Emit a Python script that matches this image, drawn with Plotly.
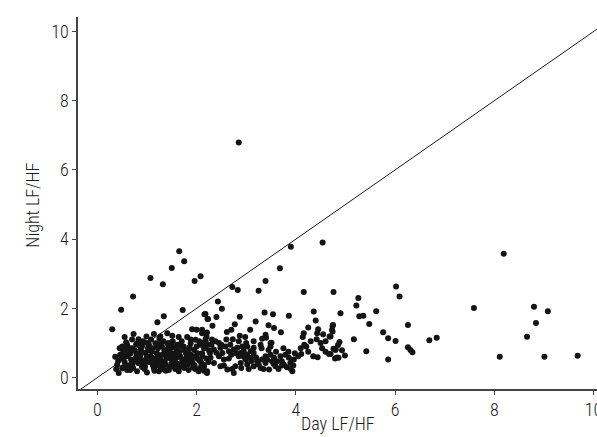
import plotly.graph_objects as go

# Day vs night LF/HF ratio per subject
day_lfhf = [
    0.30, 0.48, 0.72, 1.07, 1.32, 1.50, 1.65, 1.75, 1.96, 2.08, 1.72, 1.34, 1.21, 2.18, 2.23,
    3.90, 4.54, 3.68, 3.39, 2.72, 2.83, 3.25, 4.16, 4.76, 2.43, 2.51, 2.16, 2.22, 2.40, 2.32,
    2.87, 3.37, 3.54, 3.86, 4.36, 4.40, 4.90, 3.19, 2.77, 3.45, 3.56, 3.70, 3.08, 2.70, 2.61,
    2.87, 2.98, 2.73, 3.32, 4.16, 4.14, 4.17, 4.21, 4.43, 4.42, 4.68, 4.73, 4.75, 4.53, 4.44,
    4.67, 4.80, 4.83, 4.11, 3.51, 3.49, 3.31,
    6.02, 6.09, 5.26, 5.22, 5.62, 5.28, 5.36, 5.48, 6.26, 5.76, 5.86, 6.01, 6.69, 6.84, 5.17,
    6.26, 6.31, 6.35, 5.42, 5.86, 4.74, 4.74, 4.70, 4.88, 4.85, 4.76, 4.80, 4.93, 4.70, 4.99,
    4.79, 4.86,
    8.19, 7.59, 8.80, 9.08, 8.84, 8.66, 8.11, 9.01, 9.68, 2.85,
    2.11, 2.20, 2.13, 2.23, 2.18, 2.31, 2.38, 2.45, 2.35, 2.48, 2.58, 2.68, 2.75, 2.82, 2.92,
    2.95, 3.02, 3.09, 3.15, 3.22, 3.32, 3.39, 3.49, 3.56, 3.62, 3.69, 3.79, 3.86, 3.89, 3.96,
    3.93, 3.76, 3.59, 3.46, 3.29, 3.15, 3.02, 2.89, 2.78, 2.62, 2.48, 2.35, 2.21, 2.15, 2.75,
    2.45, 2.55, 2.28, 2.08, 2.70, 2.85, 2.99, 3.39, 3.52, 3.72, 3.09, 2.89, 2.65, 2.52, 2.27,
    3.29, 3.15, 3.02, 3.39, 3.49,
    0.55, 0.73, 0.83, 0.99, 1.14, 1.27, 1.41, 1.51, 1.64, 1.81, 1.91, 2.00, 2.11, 2.21,
    0.50, 0.60, 0.70, 0.80, 0.90, 1.04, 1.17, 1.30, 1.41, 1.47, 1.61, 1.74, 1.88, 1.98, 2.08, 2.18,
    0.46, 0.56, 0.67, 0.77, 0.87, 0.97, 1.07, 1.20, 1.27, 1.37, 1.47, 1.57, 1.67, 1.77, 1.88, 2.01, 2.11,
    0.40, 0.50, 0.43, 0.60, 0.70, 0.80, 0.90, 1.00, 1.14, 1.24, 1.34, 1.44, 1.54, 1.64, 1.74, 1.84,
    1.94, 2.04, 2.14, 2.21,
    0.55, 0.62, 0.68, 0.75, 0.82, 0.88, 0.93, 0.97, 1.02, 1.05, 1.10, 1.12, 1.18, 1.22, 1.25, 1.30,
    1.33, 1.36, 1.40, 1.45, 1.48, 1.52, 1.55, 1.58, 1.62, 1.65, 1.70, 1.72, 1.78, 1.82, 1.85, 1.90,
    1.95, 1.97, 2.02, 2.05, 2.10, 2.15, 2.20, 2.25,
    0.48, 0.52, 0.58, 0.65, 0.72, 0.78, 0.85, 0.92, 0.95, 1.00, 1.08, 1.15, 1.20, 1.28, 1.35, 1.42,
    1.50, 1.57, 1.60, 1.68, 1.75, 1.80, 1.88, 1.92, 2.00, 2.07, 2.12, 2.18, 2.24, 2.30,
    0.42, 0.38, 0.36, 0.45, 0.60, 0.70, 0.80, 0.90, 1.00, 1.10, 1.25, 1.38, 1.45, 1.55, 1.65, 1.75,
    1.85, 1.95, 2.05, 2.15,
    2.40, 2.55, 2.65, 2.72, 2.80, 2.90, 2.95, 3.05, 3.10, 3.20, 3.25, 3.35, 3.42, 3.55, 3.65, 3.72,
    3.82, 3.90, 3.95, 2.50, 2.60, 2.85, 3.00, 3.15, 3.45, 3.60, 3.75, 3.85, 3.98, 3.40,
    4.05, 4.10, 4.25, 4.30, 4.35, 4.50, 4.60, 4.25, 4.45, 4.55, 4.60,
    0.63, 0.74, 0.86, 0.96, 1.06, 1.16, 1.26, 1.37, 1.46, 1.56, 1.66, 1.76, 1.86, 1.96, 0.66, 0.79,
    0.91, 1.03, 1.13, 1.23, 1.32, 1.43, 1.53, 1.63, 1.73, 1.83, 0.57, 0.69, 0.84, 0.98, 1.11, 1.21,
    1.39, 1.49, 1.59, 1.71, 1.81, 1.93, 0.52, 0.88,
]

night_lfhf = [
    1.40, 1.96, 2.34, 2.88, 2.70, 3.17, 3.65, 3.36, 2.79, 2.93, 1.95, 1.77, 1.60, 1.84, 1.69,
    3.78, 3.90, 3.16, 2.79, 2.62, 2.53, 2.51, 2.47, 2.47, 2.20, 1.99, 1.83, 1.69, 1.75, 1.50,
    1.76, 1.88, 1.83, 1.79, 1.91, 1.65, 1.86, 1.62, 1.54, 1.51, 1.43, 1.31, 1.38, 1.38, 1.32,
    1.21, 1.17, 1.11, 1.12, 1.28, 1.17, 0.95, 0.90, 1.28, 1.11, 1.19, 1.38, 1.52, 0.85, 0.59,
    0.68, 0.82, 0.58, 0.68, 1.01, 0.90, 0.85,
    2.63, 2.34, 2.30, 2.08, 1.92, 1.77, 1.79, 1.55, 1.52, 1.31, 1.14, 1.06, 1.08, 1.15, 1.11,
    0.88, 0.80, 0.73, 0.76, 0.52, 1.50, 1.33, 1.19, 1.03, 0.94, 0.83, 0.80, 0.79, 0.68, 0.64,
    0.55, 0.57,
    3.58, 2.01, 2.05, 1.92, 1.58, 1.18, 0.60, 0.60, 0.63, 6.79,
    1.38, 1.19, 1.00, 0.95, 0.86, 1.10, 1.05, 1.00, 0.81, 0.86, 0.90, 0.95, 0.81, 0.86, 0.90,
    0.76, 0.66, 0.57, 0.71, 0.47, 0.52, 0.62, 0.66, 0.57, 0.47, 0.62, 0.66, 0.57, 0.42, 0.52,
    0.18, 0.37, 0.33, 0.23, 0.28, 0.33, 0.38, 0.42, 0.33, 0.23, 0.33, 0.42, 0.13, 0.33, 0.13,
    0.62, 0.52, 0.57, 0.47, 0.66, 0.62, 0.52, 0.42, 0.47, 0.47, 0.76, 0.71, 0.76, 0.71, 0.71,
    0.95, 0.86, 0.90, 1.24, 1.00,
    1.17, 1.26, 1.11, 1.19, 1.26, 1.19, 1.28, 1.21, 1.17, 1.17, 1.40, 1.38, 1.28, 1.30,
    0.90, 0.95, 0.85, 0.99, 0.90, 0.95, 0.99, 0.90, 0.99, 0.85, 0.95, 0.90, 0.99, 1.09, 0.95, 1.04,
    0.66, 0.61, 0.70, 0.56, 0.66, 0.51, 0.61, 0.70, 0.51, 0.66, 0.56, 0.70, 0.61, 0.51, 0.66, 0.56, 0.70,
    0.37, 0.27, 0.13, 0.22, 0.37, 0.18, 0.32, 0.15, 0.27, 0.18, 0.37, 0.22, 0.32, 0.18, 0.37, 0.22,
    0.32, 0.18, 0.37, 0.18,
    0.45, 0.35, 0.52, 0.78, 0.42, 0.80, 0.40, 0.72, 0.85, 0.45, 0.75, 0.35, 0.55, 0.85, 0.42, 0.65,
    1.05, 0.48, 0.80, 0.30, 0.70, 1.05, 0.48, 0.85, 0.40, 0.75, 1.05, 0.45, 0.72, 0.38, 0.85, 0.50,
    0.80, 0.25, 0.70, 1.05, 0.40, 0.85, 0.55, 0.78,
    0.55, 0.75, 1.02, 0.85, 0.28, 0.95, 0.58, 1.05, 0.25, 0.62, 1.10, 0.20, 0.95, 0.30, 0.78, 0.58,
    0.92, 0.25, 0.58, 0.90, 0.28, 0.62, 1.10, 0.42, 0.90, 0.28, 0.62, 1.10, 0.45, 0.95,
    0.48, 0.25, 0.60, 0.85, 0.62, 1.10, 0.70, 0.50, 1.00, 0.58, 1.12, 0.20, 1.00, 0.62, 0.30, 0.80,
    0.55, 0.62, 0.50, 0.20,
    0.72, 0.35, 0.55, 0.25, 0.70, 0.28, 0.60, 0.25, 0.48, 0.58, 0.38, 0.25, 0.52, 0.40, 0.25, 0.35,
    0.30, 0.25, 0.35, 0.95, 1.10, 1.05, 1.00, 1.05, 0.80, 0.75, 0.85, 0.75, 0.70, 1.15,
    0.62, 0.85, 0.75, 1.05, 0.62, 1.00, 0.75, 1.45, 1.40, 1.25, 1.05,
    0.68, 0.48, 0.92, 0.32, 0.78, 0.45, 0.98, 0.38, 0.82, 0.52, 0.95, 0.42, 0.88, 0.35, 0.22, 0.62,
    0.30, 0.80, 0.42, 0.65, 0.25, 0.88, 0.35, 0.68, 0.48, 0.78, 0.82, 0.40, 0.65, 0.45, 0.85, 0.35,
    0.62, 0.40, 0.72, 0.52, 0.42, 0.30, 0.30, 1.00,
]

x_title = "Day LF/HF"
y_title = "Night LF/HF"

x_range = [-0.39, 10.07]
y_range = [-0.33, 10.42]
tick_vals = [0, 2, 4, 6, 8, 10]
font_family = "Roboto Condensed, Roboto, sans-serif"
ink = "#1c1c1c"

fig = go.Figure()

# Line of identity (night = day)
fig.add_trace(go.Scatter(
    x=[x_range[0], x_range[1] + 0.5], y=[x_range[0], x_range[1] + 0.5],
    mode="lines", line=dict(color="#1a1a1a", width=1), hoverinfo="skip",
))

fig.add_trace(go.Scatter(
    x=day_lfhf, y=night_lfhf, mode="markers",
    marker=dict(color="#141414", size=6, line=dict(width=0)),
))

axis_common = dict(
    tickvals=tick_vals, ticks="outside", ticklen=4, tickwidth=1.2, tickcolor="#444",
    showline=True, linecolor="#444", linewidth=1.5, showgrid=False, zeroline=False,
    ticklabeloverflow="allow", automargin=False,
    tickfont=dict(family=font_family, size=18, color=ink, weight=300),
)

fig.update_layout(
    width=597, height=437,
    margin=dict(l=78, r=0, t=17, b=48),
    paper_bgcolor="white", plot_bgcolor="white",
    showlegend=False,
    xaxis=dict(range=x_range, **axis_common),
    yaxis=dict(range=y_range, **axis_common),
    annotations=[
        dict(text=x_title, xref="paper", yref="paper", x=0.501, y=-0.094,
             xanchor="center", yanchor="middle", showarrow=False,
             font=dict(family=font_family, size=18, color=ink, weight=300)),
        dict(text=y_title, xref="paper", yref="paper", x=-0.087, y=0.495,
             xanchor="center", yanchor="middle", showarrow=False, textangle=-90,
             font=dict(family=font_family, size=18, color=ink, weight=300)),
    ],
)

fig.write_html("out.html")
